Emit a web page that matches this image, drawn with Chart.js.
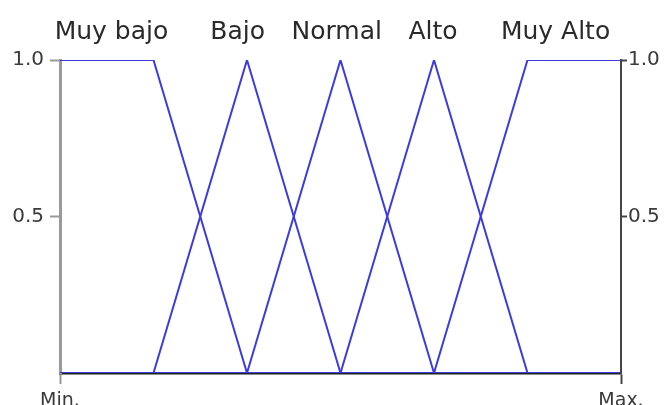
<!DOCTYPE html>
<html><head><meta charset="utf-8">
<script src="https://cdn.jsdelivr.net/npm/chart.js@4"></script>
<style>html,body{margin:0;padding:0;background:#fff}#wrap{width:664px;height:405px}</style>
</head><body><div id="wrap"><canvas id="c" width="664" height="405"></canvas></div>
<script>
const setNames = ['Muy bajo','Bajo','Normal','Alto','Muy Alto'];
const nameAnchors = [0.55, 1.9, 2.96, 3.99, 5.3];
const muyBajoX = [0,1,2,6]; const muyBajoY = [1,1,0,0];
const bajoX = [0,1,2,3,6];  const bajoY = [0,0,1,0,0];
const normalX = [0,2,3,4,6]; const normalY = [0,0,1,0,0];
const altoX = [0,3,4,5,6];  const altoY = [0,0,1,0,0];
const muyAltoX = [0,4,5,6]; const muyAltoY = [0,0,1,1];
const xTickValues = [0,6]; const xTickLabels = ['Min.','Max.'];
const yTickValues = [0.5,1.0]; const yTickLabels = ['0.5','1.0'];

const series = [[muyBajoX,muyBajoY],[bajoX,bajoY],[normalX,normalY],[altoX,altoY],[muyAltoX,muyAltoY]];
const datasets = series.map(([xs,ys],i)=>({
  label:setNames[i],
  data: xs.map((x,j)=>({x:x,y:ys[j]})),
  borderColor:'rgb(60,60,220)', borderWidth:2, pointRadius:0, fill:false, tension:0
}));

const namePlugin = {
  id:'names',
  afterDraw(chart){
    const ctx=chart.ctx, xs=chart.scales.x;
    ctx.save();
    ctx.font='25px "DejaVu Sans"'; ctx.fillStyle='#2a2a2a'; ctx.textAlign='center'; ctx.textBaseline='alphabetic';
    setNames.forEach((n,i)=>ctx.fillText(n, xs.getPixelForValue(nameAnchors[i]), 39));
    ctx.restore();
  }
};

new Chart(document.getElementById('c'),{
  type:'line',
  data:{datasets},
  plugins:[namePlugin],
  options:{
    responsive:false, animation:false,
    layout:{padding:{top:60,left:0,right:0,bottom:0}},
    plugins:{legend:{display:false},tooltip:{enabled:false}},
    scales:{
      x:{type:'linear',min:0,max:6,
        afterBuildTicks(s){s.ticks=xTickValues.map(v=>({value:v}));},
        afterFit(s){s.height=32;},
        ticks:{callback:(v,i)=>xTickLabels[i],font:{family:'DejaVu Sans',size:19},color:'#3a3a3a',padding:6,maxRotation:0,autoSkip:false},
        grid:{drawOnChartArea:false,tickLength:11,tickWidth:2,color:(c)=>c.index===0?'#999':'#444'},
        border:{color:'#222',width:2.5}
      },
      y:{position:'left',min:0,max:1,
        afterBuildTicks(s){s.ticks=yTickValues.map(v=>({value:v}));},
        afterFit(s){s.width=60;},
        ticks:{callback:(v,i)=>yTickLabels[i],font:{family:'DejaVu Sans',size:20},color:'#3a3a3a',padding:6},
        grid:{drawOnChartArea:false,tickLength:10,tickWidth:2,color:'#999'},
        border:{color:'#999',width:3}
      },
      y2:{position:'right',min:0,max:1,
        afterBuildTicks(s){s.ticks=yTickValues.map(v=>({value:v}));},
        afterFit(s){s.width=43;},
        ticks:{callback:(v,i)=>yTickLabels[i],font:{family:'DejaVu Sans',size:20},color:'#3a3a3a',padding:1},
        grid:{drawOnChartArea:false,tickLength:6,tickWidth:2,color:'#444'},
        border:{color:'#444',width:2}
      }
    }
  }
});
</script></body></html>
